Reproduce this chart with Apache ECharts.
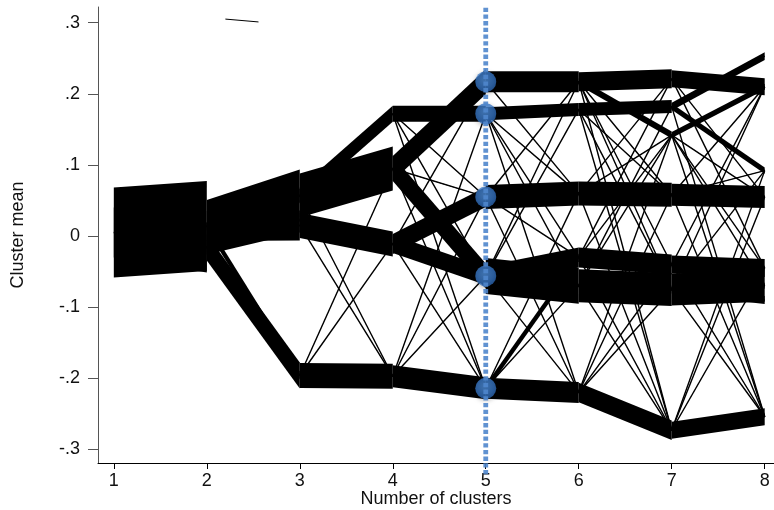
<!DOCTYPE html>
<html>
<head>
<meta charset="utf-8">
<script src="https://cdn.jsdelivr.net/npm/echarts@6/dist/echarts.min.js"></script>
<style>
html,body{margin:0;padding:0;background:#fff;}
#chart{width:774px;height:510px;}
</style>
</head>
<body>
<div id="chart"></div>
<script>
// ---- Data ----
const clusterCounts = [1, 2, 3, 4, 5, 6, 7, 8];
const yTicks = [-0.3, -0.2, -0.1, 0, 0.1, 0.2, 0.3];

// Cluster means for each number of clusters
const means1 = [0.005];
const means2 = [0.014, -0.016];
const means3 = [0.057, 0.015, -0.196];
const means4 = [0.172, 0.095, -0.011, -0.197];
const means5 = [0.217, 0.172, 0.055, -0.056, -0.214];
const means6 = [0.217, 0.178, 0.060, -0.030, -0.070, -0.220];
const means7 = [0.221, 0.182, 0.142, 0.058, -0.040, -0.075, -0.273];
const means8 = [0.253, 0.210, 0.092, 0.055, -0.045, -0.070, -0.090, -0.254];

// Flows between solutions: [from cluster, to cluster, observations]
const flows12 = [[0,0,450],[0,1,250]];
const flows23 = [[0,0,260],[0,1,150],[0,2,40],[1,2,130],[1,1,70],[1,0,70]];
const flows34 = [[0,0,80],[0,1,220],[0,3,2],[1,2,125],[1,3,2],[2,3,125],[2,2,2],[2,1,2]];
const flows45 = [[0,1,80],[0,2,2],[0,3,2],[0,4,2],[1,0,125],[1,3,125],[1,2,2],[1,4,2],
                 [2,2,100],[2,3,90],[2,4,2],[2,0,2],[3,4,110],[3,2,2],[3,3,2],[3,1,2]];
const flows56 = [[0,0,105],[0,2,2],[1,1,65],[1,2,2],[1,3,2],[1,5,2],[1,4,2],
                 [2,2,120],[2,0,2],[2,5,2],[2,3,2],[3,3,100],[3,4,180],[3,0,2],[3,5,2],[3,1,2],
                 [4,5,105],[4,3,38],[4,2,2],[4,4,2]];
const flows67 = [[0,0,95],[0,2,35],[0,3,2],[0,4,2],[0,6,2],[0,5,2],[1,1,65],[1,3,2],[1,5,2],[1,6,2],
                 [2,3,120],[2,6,2],[2,2,2],[2,0,2],[3,4,100],[3,2,2],[3,6,2],[3,0,2],
                 [4,5,165],[4,2,2],[4,6,2],[4,1,2],[5,6,98],[5,2,2],[5,3,2],[5,4,2],[5,5,2]];
const flows78 = [[0,1,85],[0,3,2],[0,4,2],[1,0,38],[1,2,32],[1,7,2],
                 [2,1,30],[2,3,2],[2,4,2],[2,7,2],[2,5,2],[3,3,110],[3,1,2],[3,7,2],[3,2,2],
                 [4,4,90],[4,5,30],[4,1,2],[4,7,2],[5,5,160],[5,6,40],[5,1,2],[5,2,2],[5,7,2],
                 [6,7,85],[6,2,2],[6,3,2],[6,4,2]];

const chosenK = 5;
const refLineY = [0.321, -0.337];
const strayLine = [[2.20, 0.305], [2.556, 0.301]];

// ---- Build ----
const allMeans = [means1, means2, means3, means4, means5, means6, means7, means8];
const allFlows = [flows12, flows23, flows34, flows45, flows56, flows67, flows78];
const flowData = [];
allFlows.forEach((fl, t) => {
  const k = clusterCounts[t];
  fl.forEach(f => flowData.push([k, allMeans[t][f[0]], allMeans[t + 1][f[1]], f[2]]));
});
const pxPerObs = 0.2;
const font = 'Liberation Sans, Arial, sans-serif';
const fs = 18;

const chart = echarts.init(document.getElementById('chart'), null, {renderer: 'canvas'});
chart.setOption({
  animation: false,
  backgroundColor: '#fff',
  grid: {left: 98, right: 0, top: 7, bottom: 47, containLabel: false, outerBoundsMode: 'none'},
  xAxis: {
    type: 'value', min: 0.83, max: 8.1,
    name: 'Number of clusters', nameLocation: 'middle', nameGap: 27, nameMoveOverlap: false,
    nameTextStyle: {fontFamily: font, fontSize: fs, color: '#111', verticalAlign: 'top'},
    axisLine: {show: true, onZero: false, lineStyle: {color: '#000', width: 1}},
    axisTick: {show: true, length: 6, lineStyle: {color: '#000'}, customValues: clusterCounts},
    axisLabel: {fontFamily: font, fontSize: fs, color: '#111', margin: 9, customValues: clusterCounts},
    splitLine: {show: false}
  },
  yAxis: {
    type: 'value', min: -0.319, max: 0.322,
    name: 'Cluster mean', nameLocation: 'middle', nameGap: 71, nameRotate: 90, nameMoveOverlap: false,
    nameTextStyle: {fontFamily: font, fontSize: fs, color: '#111'},
    axisLine: {show: true, onZero: false, lineStyle: {color: '#555', width: 1}},
    axisTick: {show: true, length: 10, lineStyle: {color: '#555'}, customValues: yTicks},
    axisLabel: {fontFamily: font, fontSize: fs, color: '#111', margin: 18, customValues: yTicks,
      formatter: v => {
        const r = Math.round(v * 10) / 10;
        if (r === 0) return '0';
        return (r < 0 ? '-' : '') + '.' + Math.round(Math.abs(r) * 10);
      }},
    splitLine: {show: false}
  },
  series: [
    {
      type: 'custom',
      z: 2,
      silent: true,
      data: flowData,
      encode: {x: 0, y: [1, 2]},
      renderItem: (params, api) => {
        const k = api.value(0);
        const p1 = api.coord([k, api.value(1)]);
        const p2 = api.coord([k + 1, api.value(2)]);
        const h = api.value(3) * pxPerObs / 2;
        return {
          type: 'group',
          children: [
            {
              type: 'polygon',
              shape: {points: [[p1[0], p1[1] - h], [p2[0], p2[1] - h], [p2[0], p2[1] + h], [p1[0], p1[1] + h]]},
              style: {fill: '#000'}
            },
            {
              type: 'line',
              shape: {x1: p1[0], y1: p1[1], x2: p2[0], y2: p2[1]},
              style: {stroke: '#000', lineWidth: 1.4, lineCap: 'butt'}
            }
          ]
        };
      }
    },
    {
      type: 'line',
      z: 2,
      silent: true,
      showSymbol: false,
      data: strayLine,
      lineStyle: {color: '#000', width: 1}
    },
    {
      type: 'scatter',
      z: 3,
      silent: true,
      symbolSize: 21,
      data: means5.map(v => [chosenK, v]),
      itemStyle: {
        color: new echarts.graphic.RadialGradient(0.45, 0.4, 0.6, [
          {offset: 0, color: '#4f8ed9'},
          {offset: 0.7, color: '#3674c2'},
          {offset: 1, color: '#2a63ad'}
        ]),
        shadowBlur: 5, shadowOffsetY: 1.5, shadowColor: 'rgba(0,0,0,0.35)'
      }
    },
    {
      type: 'line',
      z: 4,
      silent: true,
      clip: false,
      showSymbol: false,
      data: refLineY.map(v => [chosenK, v]),
      lineStyle: {color: '#4f86cc', width: 4.8, type: [4.3, 2.4], opacity: 0.9}
    }
  ]
});
</script>
</body>
</html>
